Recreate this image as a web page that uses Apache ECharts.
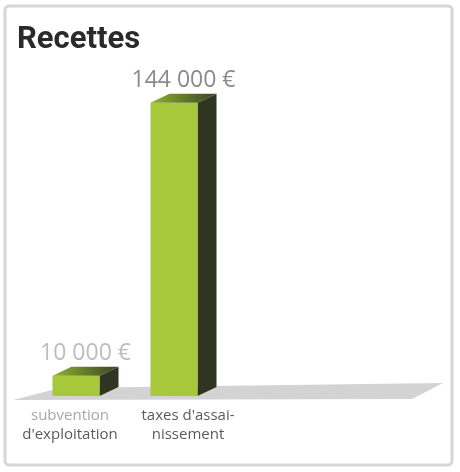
<!DOCTYPE html>
<html>
<head>
<meta charset="utf-8">
<script src="https://cdn.jsdelivr.net/npm/echarts@6/dist/echarts.min.js"></script>
<style>
  html, body { margin: 0; padding: 0; background: #fff; }
  #chart { width: 460px; height: 472px; }
</style>
</head>
<body>
<div id="chart"></div>
<script>
// data
const categories = ['subvention\nd\'exploitation', 'taxes d\'assai-\nnissement']
const values = [10000, 144000]
const valueLabels = ['10 000 €', '144 000 €']
const labelColors = ['#bdbdbd', '#8a8a8a']

const chart = echarts.init(document.getElementById('chart'))

const barW = 47
const dx = 19
const dy = 9

function renderBar(params, api) {
  let idx = api.value(0)
  let base = api.coord([idx, 0])
  let top = api.coord([idx, api.value(1)])
  let xl = base[0] - barW / 2
  let xr = base[0] + barW / 2
  let yb = base[1]
  let yt = top[1]
  return {
    type: 'group',
    children: [
      {
        type: 'polygon',
        shape: { points: [[xr, yt], [xr + dx, yt - dy], [xr + dx, yb - dy], [xr, yb]] },
        style: { fill: '#2f3520' }
      },
      {
        type: 'rect',
        shape: { x: xl, y: yt, width: barW, height: yb - yt },
        style: { fill: '#a8c83c' }
      },
      {
        type: 'polygon',
        shape: { points: [[xl, yt], [xl + dx, yt - dy], [xr + dx, yt - dy], [xr, yt]] },
        style: {
          fill: new echarts.graphic.LinearGradient(0, 0, 1, 0, [
            { offset: 0, color: '#8fb030' },
            { offset: 1, color: '#3a4424' }
          ])
        }
      },
      {
        type: 'text',
        style: {
          text: valueLabels[params.dataIndex],
          x: (xl + xr + dx) / 2,
          y: yt - dy - 13,
          align: 'center',
          verticalAlign: 'middle',
          fill: labelColors[params.dataIndex],
          font: '23px "Open Sans"'
        }
      }
    ]
  }
}

const option = {
  animation: false,
  title: {
    text: 'Recettes',
    left: 12,
    top: 20,
    textStyle: {
      fontFamily: 'Roboto',
      fontWeight: 'bold',
      fontSize: 31,
      color: '#2a2a2a'
    }
  },
  graphic: [
    {
      type: 'rect',
      shape: { x: 5, y: 6, width: 447, height: 459, r: 4 },
      style: { fill: 'none', stroke: '#d6d6d6', lineWidth: 3 },
      z: -10
    },
    {
      type: 'polygon',
      shape: { points: [[13, 400], [60, 388], [443, 383], [412, 399]] },
      style: { fill: '#d3d3d3' },
      z: -5
    }
  ],
  grid: { left: 27, width: 196, top: 60, bottom: 76 },
  xAxis: {
    type: 'category',
    data: [
      { value: categories[0], textStyle: { padding: [0, 12, 0, 0] } },
      { value: categories[1], textStyle: { padding: [0, 0, 0, 28] } }
    ],
    axisLine: { show: false },
    axisTick: { show: false },
    axisLabel: {
      margin: 10,
      interval: 0,
      fontFamily: '"Open Sans"',
      fontSize: 15,
      lineHeight: 19,
      color: '#5a5a5a',
      formatter: function (v, i) {
        let lines = v.split('\n')
        return i === 0 ? '{a|' + lines[0] + '}\n{b|' + lines[1] + '}' : '{b|' + lines[0] + '}\n{b|' + lines[1] + '}'
      },
      rich: {
        a: { color: '#a8a8a8', fontFamily: '"Open Sans"', fontSize: 15, lineHeight: 19 },
        b: { color: '#5a5a5a', fontFamily: '"Open Sans"', fontSize: 15, lineHeight: 19 }
      }
    }
  },
  yAxis: {
    type: 'value',
    min: 0,
    max: 165000,
    show: false,
    splitLine: { show: false }
  },
  series: [
    {
      type: 'custom',
      renderItem: renderBar,
      encode: { x: 0, y: 1 },
      data: categories.map((c, i) => [i, values[i]])
    }
  ]
}

chart.setOption(option)
</script>
</body>
</html>
